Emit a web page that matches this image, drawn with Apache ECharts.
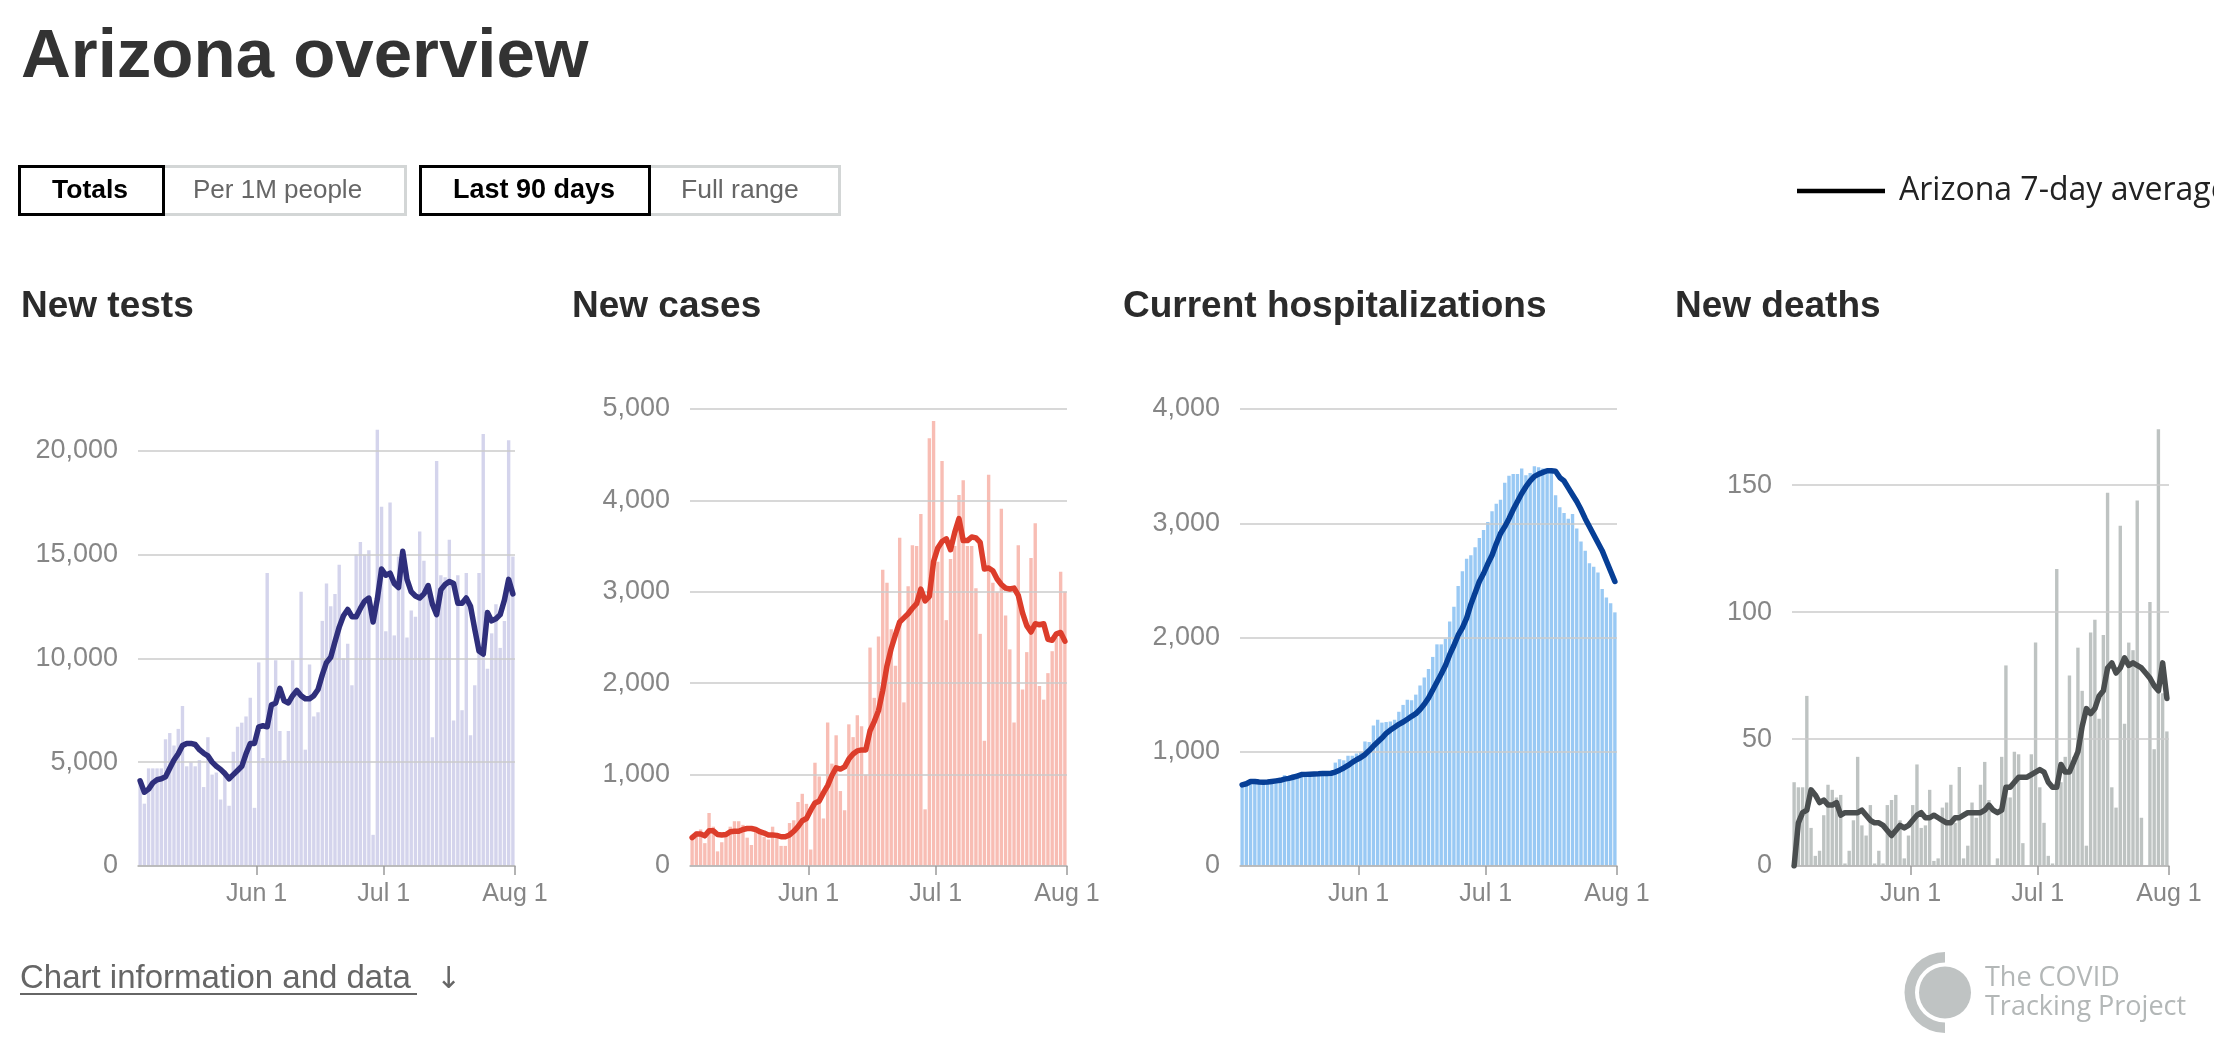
<!DOCTYPE html>
<html>
<head>
<meta charset="utf-8">
<script src="https://cdn.jsdelivr.net/npm/echarts@6/dist/echarts.min.js"></script>
<style>
html,body{margin:0;padding:0;background:#fff;overflow:hidden;}
#chart{width:2214px;height:1056px;}
</style>
</head>
<body>
<div id="chart"></div>
<script>
// ---------- data ----------
const startDate = '2020-05-04';
const dayCount = 89;
const tickDates = ['2020-06-01', '2020-07-01', '2020-08-01'];
const tickLabels = ['Jun 1', 'Jul 1', 'Aug 1'];

const panelTitles = ['New tests', 'New cases', 'Current hospitalizations', 'New deaths'];

const testsDaily = [
  4000, 3000, 4700, 4700, 4700, 4700, 6100, 6400, 5800, 6600, 7700, 4800, 5000, 4800, 5100, 3800, 6200, 4400, 4500, 3200, 4600, 2900, 5500, 6700, 6900, 7200, 8100, 2800,
  9800, 5200, 14100, 7900, 9900, 6500, 5100, 6500, 9900, 8300, 13200, 5600, 9700, 7200, 7400, 11800, 13600, 12500, 13100, 14500, 10000, 10700, 8700, 15000, 15600, 15000, 15200, 1500, 21000, 17300,
  11300, 17500, 11100, 14900, 15100, 11000, 12300, 12000, 16100, 14700, 13000, 6200, 19500, 14000, 13900, 15700, 7000, 14000, 7500, 14100, 6300, 8700, 14100, 20800, 9500, 11200, 12600, 10500, 11800, 20500, 14900
];
const testsAvg = [
  4100, 3550, 3700, 4000, 4150, 4200, 4300, 4700, 5100, 5400,
  5800, 5900, 5900, 5850, 5600, 5430, 5300, 5000, 4800, 4650,
  4450, 4200, 4400, 4600, 4800, 5400, 5900, 5900, 6700, 6750,
  6700, 7750, 7850, 8550, 7950, 7850, 8200, 8450, 8200, 8050,
  8050, 8200, 8500, 9200, 9800, 10050, 10800, 11500, 12050, 12350,
  12000, 12000, 12400, 12750, 12900, 11750, 12850, 14300, 14000, 14100,
  13600, 13400, 15150, 13800, 13200, 13000, 12900, 13100, 13500, 12600,
  12100, 13300, 13550, 13700, 13600, 12650, 12650, 12900, 12500, 11400,
  10350, 10200, 12200, 11800, 11900, 12100, 12800, 13800, 13100
];

const casesDaily = [
  290, 380, 400, 250, 580, 430, 160, 260, 340, 430, 490, 490, 450, 310, 230, 400, 350, 320, 290, 430, 350, 220, 220, 470, 500, 700, 790, 680,
  180, 1130, 980, 520, 1570, 1120, 1430, 820, 610, 1550, 1410, 1650, 1530, 1000, 2390, 1840, 2510, 3240, 3100, 2590, 2190, 3590, 1790, 3060, 3510, 3500, 3850, 620, 4680, 4870,
  3330, 4430, 2690, 3360, 3500, 4060, 4220, 3500, 3500, 3040, 2540, 1370, 4280, 3100, 3000, 3910, 2740, 2370, 1570, 3510, 1930, 2340, 3370, 3750, 1970, 1820, 2110, 2350, 2500, 3220, 3000
];
const casesAvg = [
  310, 350, 350, 330, 385, 385, 345, 340, 345, 375,
  380, 380, 400, 410, 410, 400, 375, 360, 340, 340,
  335, 320, 320, 340, 380, 430, 495, 520, 610, 690,
  710, 800, 880, 990, 1075, 1060, 1085, 1170, 1225, 1260,
  1270, 1270, 1480, 1580, 1700, 1920, 2190, 2380, 2530, 2670,
  2715, 2760, 2820, 2870, 3030, 2900, 2950, 3330, 3480, 3550,
  3580, 3460, 3650, 3800, 3560, 3560, 3600, 3590, 3540, 3250,
  3260, 3230, 3140, 3080, 3040, 3030, 3040, 2960, 2770, 2630,
  2560, 2650, 2640, 2650, 2480, 2470, 2540, 2555, 2460
];

const hospDaily = [
  700, 730, 740, 740, 735, 740, 745, 750, 755, 760, 795, 775, 800, 810, 815, 815, 805, 815, 815, 815, 815, 820, 905, 935, 925, 965, 965, 985,
  1000, 1090, 1085, 1230, 1280, 1255, 1260, 1265, 1280, 1350, 1410, 1455, 1450, 1500, 1580, 1650, 1725, 1830, 1940, 1940, 1990, 2140, 2270, 2450, 2580, 2690, 2720, 2790, 2870, 2940,
  3010, 3105, 3170, 3205, 3355, 3415, 3430, 3430, 3480, 3420, 3440, 3500, 3490, 3480, 3470, 3460, 3245, 3140, 3090, 3040, 3080, 2955, 2840, 2760, 2650, 2620, 2570, 2425, 2350, 2300, 2220
];
const hospAvg = [
  710, 720, 740, 740, 735, 733, 735, 740, 745, 750,
  760, 767, 777, 787, 800, 802, 804, 806, 807, 809,
  810, 812, 822, 839, 858, 880, 907, 930, 950, 975,
  1010, 1050, 1085, 1120, 1160, 1190, 1215, 1240, 1260, 1285,
  1310, 1333, 1370, 1415, 1470, 1540, 1610, 1680, 1755, 1850,
  1930, 2020, 2085, 2170, 2290, 2390, 2490, 2560, 2645, 2720,
  2820, 2910, 2970, 3040, 3120, 3190, 3260, 3320, 3370, 3410,
  3430, 3445, 3460, 3460, 3455, 3400, 3370, 3310, 3250, 3190,
  3120, 3040, 2970, 2900, 2830, 2760, 2670, 2580, 2490
];

const deathsDaily = [
  33, 31, 31, 67, 15, 4, 6, 20, 32, 30,
  27, 28, 1, 6, 18, 43, 16, 12, 24, 1,
  6, 1, 24, 26, 28, 18, 3, 12, 24, 40,
  15, 16, 30, 2, 3, 23, 25, 32, 17, 39,
  3, 8, 25, 19, 32, 41, 26, 0, 3, 43,
  79, 27, 45, 44, 9, 0, 44, 88, 31, 17,
  4, 1, 117, 33, 43, 75, 43, 86, 69, 8,
  92, 97, 58, 91, 147, 31, 23, 134, 56, 88,
  85, 144, 19, 0, 104, 46, 172, 68, 53
];
const deathsAvg = [
  0, 17, 21, 22, 30, 28, 25, 26, 24, 24,
  25, 20, 21, 21, 21, 21, 22, 20, 18, 17,
  17, 16, 14, 12, 14, 16, 15, 16, 18, 20,
  21, 19, 19, 20, 19, 18, 17, 17, 19, 19,
  20, 21, 21, 21, 21, 22, 24, 22, 21, 22,
  31, 31, 33, 35, 35, 35, 36, 37, 38, 37,
  33, 31, 31, 40, 37, 37, 41, 45, 55, 62,
  60, 62, 67, 69, 78, 80, 76, 78, 82, 79,
  80, 79, 78, 76, 74, 71, 69, 80, 66
];

// ---------- axis settings ----------
const yMax = [22000, 5000, 4000, 180];
const yInterval = [5000, 1000, 1000, 50];
const barColors = ['#d4d4ec', '#f8bdb4', '#99c9f4', '#bec3c2'];
const lineColors = ['#2f2f7c', '#dc3d2b', '#073f96', '#4a4e4f'];
const dailySeries = [testsDaily, casesDaily, hospDaily, deathsDaily];
const avgSeries = [testsAvg, casesAvg, hospAvg, deathsAvg];

// ---------- layout ----------
const gridLeft = [138, 690, 1240, 1792];
const gridTop = 409, gridWidth = 377, gridHeight = 457;
const titleLeft = [21, 572, 1123, 1675];
const FONT = '"Liberation Sans", Arial, sans-serif';

// category labels (dates)
const DAY = 86400000;
const t0 = Date.parse(startDate + 'T00:00:00Z');
const categories = [];
for (let i = 0; i < dayCount; i++) {
  const d = new Date(t0 + i * DAY);
  categories.push(d.toISOString().slice(0, 10));
}
const tickPositions = tickDates.map(s => Math.round((Date.parse(s + 'T00:00:00Z') - t0) / DAY));

const grids = [], xAxes = [], yAxes = [], series = [];
for (let p = 0; p < 4; p++) {
  grids.push({left: gridLeft[p], top: gridTop, width: gridWidth, height: gridHeight, containLabel: false, outerBoundsMode: 'none'});
  xAxes.push({
    type: 'category', gridIndex: p, data: categories, boundaryGap: true,
    axisLine: {show: true, lineStyle: {color: '#b4b4b4', width: 1.5}},
    axisTick: {show: false}, axisLabel: {show: false}, splitLine: {show: false}, z: 4
  });
  xAxes.push({
    type: 'value', gridIndex: p, position: 'bottom', min: 0, max: dayCount,
    axisLine: {show: false},
    axisTick: {show: true, customValues: tickPositions, length: 9, lineStyle: {color: '#9a9a9a', width: 1.5}},
    axisLabel: {
      show: true, customValues: tickPositions, margin: 16,
      color: '#868686', fontSize: 25, fontFamily: FONT,
      formatter: v => tickLabels[tickPositions.indexOf(v)] || ''
    },
    splitLine: {show: false}, z: 4
  });
  const showTop = (yMax[p] % yInterval[p]) === 0;
  yAxes.push({
    type: 'value', gridIndex: p, min: 0, max: yMax[p], interval: yInterval[p],
    axisLine: {show: false}, axisTick: {show: false},
    axisLabel: {color: '#868686', fontSize: 27, fontFamily: FONT, margin: 20, showMaxLabel: showTop},
    splitLine: {show: true, showMaxLine: showTop, lineStyle: {color: '#cbcbcb', width: 1.5}},
    z: 3
  });
  series.push({
    type: 'bar', name: panelTitles[p], xAxisIndex: p * 2, yAxisIndex: p,
    data: dailySeries[p], barCategoryGap: '20%',
    itemStyle: {color: barColors[p]}, silent: true, z: 2
  });
  series.push({
    type: 'line', name: panelTitles[p] + ' 7-day average', xAxisIndex: p * 2, yAxisIndex: p,
    data: avgSeries[p], showSymbol: false, smooth: false, silent: true,
    lineStyle: {color: lineColors[p], width: 5.5, cap: 'round', join: 'round'}, z: 5
  });
}

function txt(x, y, text, font, fill, extra) {
  return Object.assign({
    type: 'text', x: x, y: y, silent: true,
    style: {text: text, font: font, fill: fill, align: 'left', textAlign: 'left', verticalAlign: 'middle', textVerticalAlign: 'middle'}
  }, extra || {});
}

const graphics = [
  txt(21, 58, 'Arizona overview', 'bold 69px ' + FONT, '#333333'),
  // button group 1
  {type: 'rect', shape: {x: 19.5, y: 166.5, width: 386, height: 48}, style: {fill: '#fff', stroke: '#d3d6d6', lineWidth: 3}},
  {type: 'rect', shape: {x: 19.5, y: 166.5, width: 144, height: 48}, style: {fill: 'none', stroke: '#000', lineWidth: 3}},
  txt(52, 191, 'Totals', 'bold 26.5px ' + FONT, '#000'),
  txt(193, 191, 'Per 1M people', '26px ' + FONT, '#666'),
  // button group 2
  {type: 'rect', shape: {x: 420.5, y: 166.5, width: 419, height: 48}, style: {fill: '#fff', stroke: '#d3d6d6', lineWidth: 3}},
  {type: 'rect', shape: {x: 420.5, y: 166.5, width: 229, height: 48}, style: {fill: 'none', stroke: '#000', lineWidth: 3}},
  txt(453, 191, 'Last 90 days', 'bold 27px ' + FONT, '#000'),
  txt(681, 191, 'Full range', '26.5px ' + FONT, '#666'),
  // legend
  {type: 'line', shape: {x1: 1797, y1: 191, x2: 1885, y2: 191}, style: {stroke: '#000', lineWidth: 4.5}},
  txt(1899, 191, 'Arizona 7-day average', '32px "Open Sans", sans-serif', '#222'),
  // footer
  txt(20, 979, 'Chart information and data', '33px ' + FONT, '#666'),
  {type: 'line', shape: {x1: 20, y1: 994, x2: 417, y2: 994}, style: {stroke: '#666', lineWidth: 2}},
  txt(436, 980, '\u2193', '30px "DejaVu Sans", sans-serif', '#666'),
  // logo
  {type: 'sector', shape: {cx: 1945, cy: 992.5, r0: 30, r: 40.5, startAngle: Math.PI / 2, endAngle: Math.PI * 1.5, clockwise: true}, style: {fill: '#bfc3c3'}},
  {type: 'circle', shape: {cx: 1945, cy: 992.5, r: 26}, style: {fill: '#bfc3c3'}},
  txt(1985, 978, 'The COVID', '27px "Open Sans", sans-serif', '#b3b7b7'),
  txt(1985, 1007, 'Tracking Project', '27px "Open Sans", sans-serif', '#b3b7b7')
];
for (let p = 0; p < 4; p++) {
  graphics.push(txt(titleLeft[p], 307, panelTitles[p], 'bold 37px ' + FONT, '#2b2b2b'));
}

const chart = echarts.init(document.getElementById('chart'), null, {renderer: 'canvas', width: 2214, height: 1056});
chart.setOption({
  animation: false,
  backgroundColor: '#ffffff',
  textStyle: {fontFamily: FONT},
  grid: grids,
  xAxis: xAxes,
  yAxis: yAxes,
  series: series,
  graphic: {elements: graphics}
});
</script>
</body>
</html>
